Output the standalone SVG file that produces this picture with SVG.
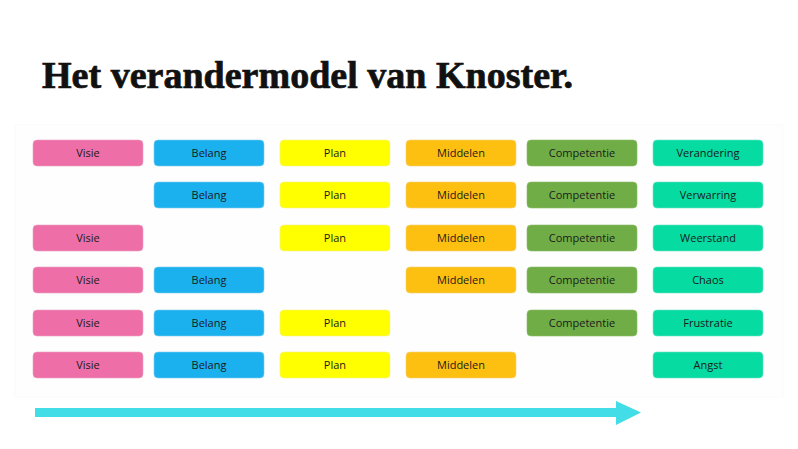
<svg xmlns="http://www.w3.org/2000/svg" width="798" height="449" viewBox="0 0 798 449">
<style>
.b{stroke-width:0.6}
.v{fill:#ee6fa7;stroke:#e8a0c0}
.be{fill:#1bb1ee;stroke:#7fcdf0}
.p{fill:#ffff00;stroke:#f3f08a}
.m{fill:#fec010;stroke:#f4d27a}
.c{fill:#70ad47;stroke:#8bbd6a}
.r{fill:#06dba2;stroke:#6fe5c4}
.t{font-family:"Open Sans","Liberation Sans",sans-serif;font-size:11px;fill:#1a1a1a;text-anchor:middle}
</style>
<defs>
<rect id="box" width="110" height="26" rx="4"/>
</defs>
<rect width="798" height="449" fill="#ffffff"/>
<rect x="15" y="125" width="768" height="272" fill="#fefefe" stroke="#fafafa" stroke-width="1"/>
<text x="42" y="88" font-family="'Liberation Serif','DejaVu Serif',serif" font-weight="bold" font-size="38" fill="#111" stroke="#111" stroke-width="0.7" textLength="531" lengthAdjust="spacingAndGlyphs">Het verandermodel van Knoster.</text>

<g id="row1">
<g id="r1-visie"><use href="#box" x="33" y="140" class="b v"/><text class="t" x="88" y="157">Visie</text></g>
<g id="r1-belang"><use href="#box" x="154" y="140" class="b be"/><text class="t" x="209" y="157">Belang</text></g>
<g id="r1-plan"><use href="#box" x="280" y="140" class="b p"/><text class="t" x="335" y="157">Plan</text></g>
<g id="r1-middelen"><use href="#box" x="406" y="140" class="b m"/><text class="t" x="461" y="157">Middelen</text></g>
<g id="r1-competentie"><use href="#box" x="527" y="140" class="b c"/><text class="t" x="582" y="157">Competentie</text></g>
<g id="r1-result"><use href="#box" x="653" y="140" class="b r"/><text class="t" x="708" y="157">Verandering</text></g>
</g>

<g id="row2">
<g id="r2-belang"><use href="#box" x="154" y="182" class="b be"/><text class="t" x="209" y="199">Belang</text></g>
<g id="r2-plan"><use href="#box" x="280" y="182" class="b p"/><text class="t" x="335" y="199">Plan</text></g>
<g id="r2-middelen"><use href="#box" x="406" y="182" class="b m"/><text class="t" x="461" y="199">Middelen</text></g>
<g id="r2-competentie"><use href="#box" x="527" y="182" class="b c"/><text class="t" x="582" y="199">Competentie</text></g>
<g id="r2-result"><use href="#box" x="653" y="182" class="b r"/><text class="t" x="708" y="199">Verwarring</text></g>
</g>

<g id="row3">
<g id="r3-visie"><use href="#box" x="33" y="225" class="b v"/><text class="t" x="88" y="242">Visie</text></g>
<g id="r3-plan"><use href="#box" x="280" y="225" class="b p"/><text class="t" x="335" y="242">Plan</text></g>
<g id="r3-middelen"><use href="#box" x="406" y="225" class="b m"/><text class="t" x="461" y="242">Middelen</text></g>
<g id="r3-competentie"><use href="#box" x="527" y="225" class="b c"/><text class="t" x="582" y="242">Competentie</text></g>
<g id="r3-result"><use href="#box" x="653" y="225" class="b r"/><text class="t" x="708" y="242">Weerstand</text></g>
</g>

<g id="row4">
<g id="r4-visie"><use href="#box" x="33" y="267" class="b v"/><text class="t" x="88" y="284">Visie</text></g>
<g id="r4-belang"><use href="#box" x="154" y="267" class="b be"/><text class="t" x="209" y="284">Belang</text></g>
<g id="r4-middelen"><use href="#box" x="406" y="267" class="b m"/><text class="t" x="461" y="284">Middelen</text></g>
<g id="r4-competentie"><use href="#box" x="527" y="267" class="b c"/><text class="t" x="582" y="284">Competentie</text></g>
<g id="r4-result"><use href="#box" x="653" y="267" class="b r"/><text class="t" x="708" y="284">Chaos</text></g>
</g>

<g id="row5">
<g id="r5-visie"><use href="#box" x="33" y="310" class="b v"/><text class="t" x="88" y="327">Visie</text></g>
<g id="r5-belang"><use href="#box" x="154" y="310" class="b be"/><text class="t" x="209" y="327">Belang</text></g>
<g id="r5-plan"><use href="#box" x="280" y="310" class="b p"/><text class="t" x="335" y="327">Plan</text></g>
<g id="r5-competentie"><use href="#box" x="527" y="310" class="b c"/><text class="t" x="582" y="327">Competentie</text></g>
<g id="r5-result"><use href="#box" x="653" y="310" class="b r"/><text class="t" x="708" y="327">Frustratie</text></g>
</g>

<g id="row6">
<g id="r6-visie"><use href="#box" x="33" y="352" class="b v"/><text class="t" x="88" y="369">Visie</text></g>
<g id="r6-belang"><use href="#box" x="154" y="352" class="b be"/><text class="t" x="209" y="369">Belang</text></g>
<g id="r6-plan"><use href="#box" x="280" y="352" class="b p"/><text class="t" x="335" y="369">Plan</text></g>
<g id="r6-middelen"><use href="#box" x="406" y="352" class="b m"/><text class="t" x="461" y="369">Middelen</text></g>
<g id="r6-result"><use href="#box" x="653" y="352" class="b r"/><text class="t" x="708" y="369">Angst</text></g>
</g>

<g id="connectors">
<rect x="35" y="408" width="582" height="9" fill="#42dde6"/>
<polygon points="616,401 641,412.5 616,425" fill="#42dde6"/>
</g>
</svg>
